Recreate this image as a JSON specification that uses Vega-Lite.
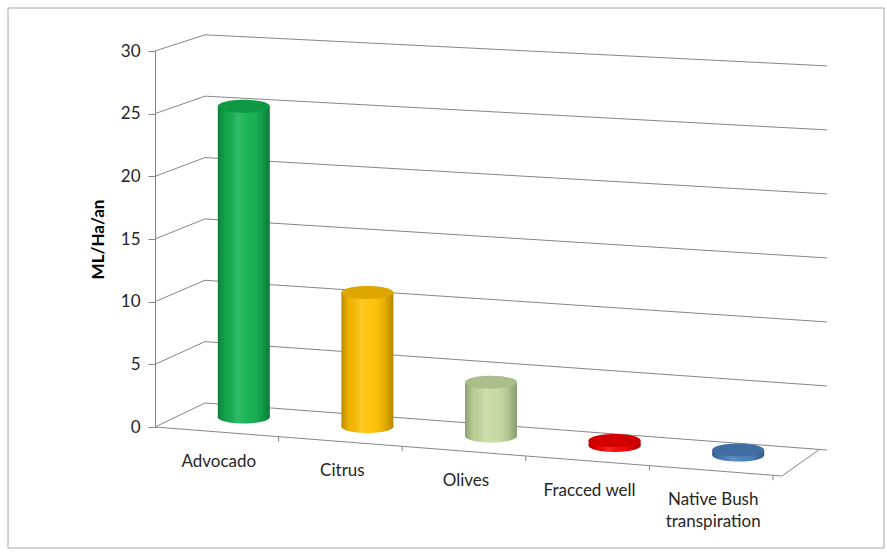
{
  "$schema": "https://vega.github.io/schema/vega-lite/v6.json",
  "width": 672,
  "height": 376,
  "autosize": "none",
  "padding": {"left": 155, "top": 51, "right": 60, "bottom": 125},
  "background": "white",
  "config": {"view": {"stroke": null}, "font": "Lato"},
  "datasets": {
    "crops": [
      {"crop": "Advocado", "mlha": 24.8},
      {"crop": "Citrus", "mlha": 10.7},
      {"crop": "Olives", "mlha": 4.3},
      {"crop": "Fracced well", "mlha": 0.4},
      {"crop": "Native Bush\ntranspiration", "mlha": 0.4}
    ],
    "gridvals": [{"v": 0}, {"v": 5}, {"v": 10}, {"v": 15}, {"v": 20}, {"v": 25}, {"v": 30}]
  },
  "layer": [
    {
      "data": {"values": [{"v": 0}]},
      "mark": {"type": "rect", "fill": "transparent", "stroke": "#a6a6a6", "strokeWidth": 1},
      "encoding": {
        "x": {"value": -147}, "x2": {"value": {"expr": "width + 57"}},
        "y": {"value": -43}, "y2": {"value": {"expr": "height + 121"}}
      }
    },
    {
      "data": {"name": "gridvals"},
      "mark": {"type": "rule", "color": "#868686", "strokeWidth": 1,
        "y2Offset": {"expr": "-24 + 0.26 * datum.v"}},
      "encoding": {
        "x": {"value": 0}, "x2": {"value": {"expr": "width * 0.0744"}},
        "y": {"field": "v", "type": "quantitative",
          "scale": {"domain": [0, 30], "nice": false, "zero": true},
          "axis": {"values": [0, 5, 10, 15, 20, 25, 30], "grid": false,
            "domain": true, "domainColor": "#868686", "ticks": true, "tickColor": "#868686", "tickSize": 7,
            "labelFontSize": 17, "labelColor": "#262626", "labelPadding": 8,
            "title": "ML/Ha/an", "titleFontSize": 17, "titleFontWeight": "bold", "titleColor": "#000000", "titlePadding": 13}},
        "y2": {"field": "v"}
      }
    },
    {
      "data": {"name": "gridvals"},
      "mark": {"type": "rule", "color": "#868686", "strokeWidth": 1,
        "yOffset": {"expr": "-24 + 0.26 * datum.v"},
        "y2Offset": {"expr": "23 - 0.27 * datum.v"}},
      "encoding": {
        "x": {"value": {"expr": "width * 0.0744"}}, "x2": {"value": {"expr": "width"}},
        "y": {"field": "v", "type": "quantitative"},
        "y2": {"field": "v"}
      }
    },
    {
      "data": {"values": [{"v": 0}]},
      "mark": {"type": "rule", "color": "#868686", "strokeWidth": 1, "y2Offset": 49},
      "encoding": {
        "x": {"value": 0}, "x2": {"value": {"expr": "width * 0.933"}},
        "y": {"field": "v", "type": "quantitative"}, "y2": {"field": "v"}
      }
    },
    {
      "data": {"values": [{"v": 0}]},
      "mark": {"type": "rule", "color": "#868686", "strokeWidth": 1, "yOffset": 49, "y2Offset": 22},
      "encoding": {
        "x": {"value": {"expr": "width * 0.933"}}, "x2": {"value": {"expr": "width * 0.9896"}},
        "y": {"field": "v", "type": "quantitative"}, "y2": {"field": "v"}
      }
    },
    {
      "data": {"name": "crops"},
      "mark": {"type": "point", "filled": true, "opacity": 1, "size": 2704,
        "shape": "M-1,0A1,0.25,0,1,0,1,0A1,0.25,0,1,0,-1,0Z",
        "yOffset": {"expr": "-12.06 + 0.077 * scale('x', datum.crop)"}},
      "encoding": {
        "x": {"field": "crop", "type": "nominal", "sort": null,
          "scale": {"paddingInner": 0, "paddingOuter": 0.2185}, "axis": null},
        "y": {"datum": 0, "type": "quantitative"},
        "color": {"field": "crop", "type": "nominal", "sort": null, "legend": null,
          "scale": {"range": ["#12B050", "#FFC000", "#C5D99E", "#F20000", "#4A7EBB"]}}
      }
    },
    {
      "data": {"name": "crops"},
      "mark": {"type": "point", "filled": false, "opacity": 1, "size": 100, "shape": "M0,0L0,1",
        "color": "#868686", "strokeWidth": 1, "xOffset": 34.8,
        "yOffset": {"expr": "0.078 * (scale('x', datum.crop) + 96.6)"}},
      "encoding": {
        "x": {"field": "crop", "type": "nominal", "sort": null},
        "y": {"datum": 0, "type": "quantitative"}
      }
    },
    {
      "data": {"name": "crops"},
      "mark": {"type": "point", "filled": true, "opacity": 1, "size": 2704,
        "shape": "M-1,0A1,0.25,0,1,0,1,0A1,0.25,0,1,0,-1,0Z",
        "yOffset": {"expr": "-12.06 + 0.077 * scale('x', datum.crop)"},
        "color": {"gradient": "linear", "x1": 0, "x2": 1, "y1": 0, "y2": 0,
          "stops": [
            {"offset": 0, "color": "rgba(0,0,0,0.28)"},
            {"offset": 0.15, "color": "rgba(0,0,0,0.06)"},
            {"offset": 0.38, "color": "rgba(255,255,255,0.14)"},
            {"offset": 0.6, "color": "rgba(255,255,255,0.03)"},
            {"offset": 0.85, "color": "rgba(0,0,0,0.12)"},
            {"offset": 1, "color": "rgba(0,0,0,0.3)"}]}},
      "encoding": {
        "x": {"field": "crop", "type": "nominal", "sort": null},
        "y": {"datum": 0, "type": "quantitative"}
      }
    },
    {
      "data": {"name": "crops"},
      "mark": {"type": "bar", "width": {"band": 0.42},
        "yOffset": {"expr": "-12.06 + 0.077 * scale('x', datum.crop)"},
        "y2Offset": {"expr": "-12.06 + 0.077 * scale('x', datum.crop)"}},
      "encoding": {
        "x": {"field": "crop", "type": "nominal", "sort": null},
        "y": {"field": "mlha", "type": "quantitative"},
        "color": {"field": "crop", "type": "nominal", "sort": null, "legend": null}
      }
    },
    {
      "data": {"name": "crops"},
      "mark": {"type": "bar", "width": {"band": 0.42},
        "yOffset": {"expr": "-12.06 + 0.077 * scale('x', datum.crop)"},
        "y2Offset": {"expr": "-12.06 + 0.077 * scale('x', datum.crop)"},
        "color": {"gradient": "linear", "x1": 0, "x2": 1, "y1": 0, "y2": 0,
          "stops": [
            {"offset": 0, "color": "rgba(0,0,0,0.28)"},
            {"offset": 0.15, "color": "rgba(0,0,0,0.06)"},
            {"offset": 0.38, "color": "rgba(255,255,255,0.14)"},
            {"offset": 0.6, "color": "rgba(255,255,255,0.03)"},
            {"offset": 0.85, "color": "rgba(0,0,0,0.12)"},
            {"offset": 1, "color": "rgba(0,0,0,0.3)"}]}},
      "encoding": {
        "x": {"field": "crop", "type": "nominal", "sort": null},
        "y": {"field": "mlha", "type": "quantitative"}
      }
    },
    {
      "data": {"name": "crops"},
      "mark": {"type": "point", "filled": true, "opacity": 1, "size": 2704,
        "shape": "M-1,0A1,0.25,0,1,0,1,0A1,0.25,0,1,0,-1,0Z",
        "yOffset": {"expr": "-12.06 + 0.077 * scale('x', datum.crop)"}},
      "encoding": {
        "x": {"field": "crop", "type": "nominal", "sort": null},
        "y": {"field": "mlha", "type": "quantitative"},
        "color": {"field": "crop", "type": "nominal", "sort": null, "legend": null}
      }
    },
    {
      "data": {"name": "crops"},
      "mark": {"type": "point", "filled": true, "size": 2704, "color": "#000000", "opacity": 0.13,
        "shape": "M-1,0A1,0.25,0,1,0,1,0A1,0.25,0,1,0,-1,0Z",
        "yOffset": {"expr": "-12.06 + 0.077 * scale('x', datum.crop)"}},
      "encoding": {
        "x": {"field": "crop", "type": "nominal", "sort": null},
        "y": {"field": "mlha", "type": "quantitative"}
      }
    },
    {
      "data": {"name": "crops"},
      "mark": {"type": "text", "fontSize": 17, "color": "#262626", "align": "center", "baseline": "top",
        "lineBreak": "\n", "lineHeight": 22, "xOffset": -25,
        "yOffset": {"expr": "24.9 + 0.077 * scale('x', datum.crop)"}},
      "encoding": {
        "x": {"field": "crop", "type": "nominal", "sort": null},
        "y": {"datum": 0, "type": "quantitative"},
        "text": {"field": "crop"}
      }
    }
  ]
}
